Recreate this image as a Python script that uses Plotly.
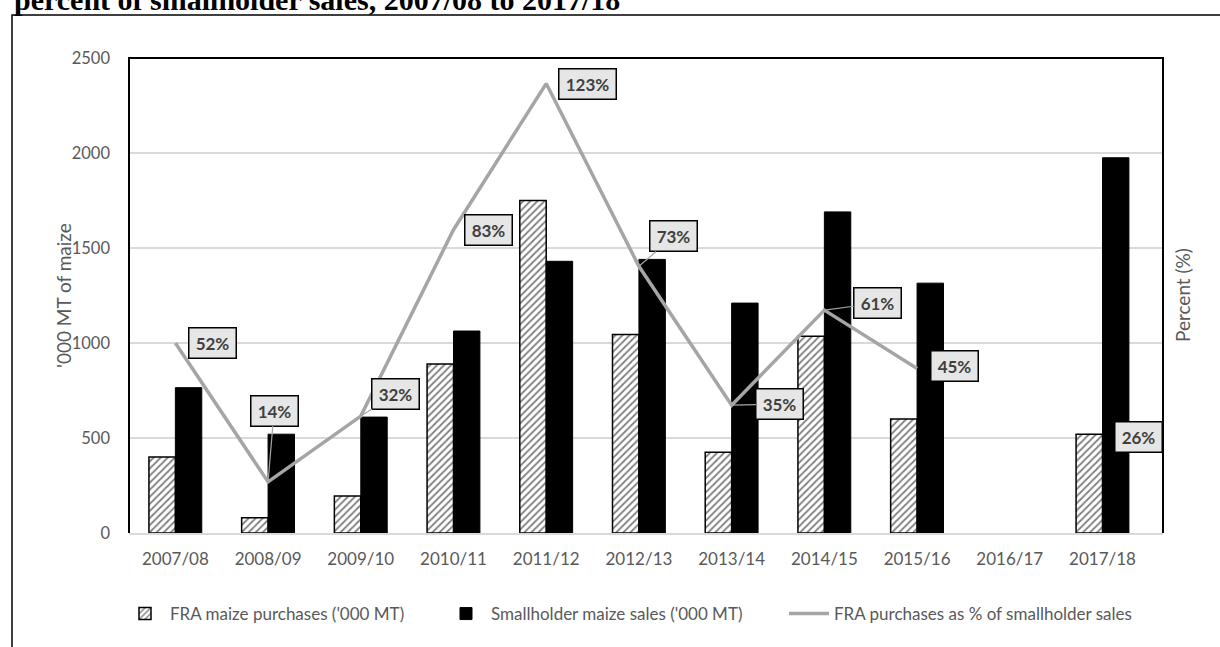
import plotly.graph_objects as go

seasons = ["2007/08", "2008/09", "2009/10", "2010/11", "2011/12", "2012/13",
           "2013/14", "2014/15", "2015/16", "2016/17", "2017/18"]
fra_purchases = [400, 80, 195, 890, 1750, 1045, 425, 1035, 600, None, 520]
smallholder_sales = [765, 520, 610, 1063, 1430, 1440, 1210, 1690, 1315, None, 1975]
fra_pct = [52, 14, 32, 83, 123, 73, 35, 61, 45, None, 26]
pct_labels = ["52%", "14%", "32%", "83%", "123%", "73%", "35%", "61%", "45%", None, "26%"]

# label offsets (pixels) and whether a leader line is shown
label_dx = [37, 6, 35, 35, 41, 35, 48, 53, 37, 0, 36]
label_dy = [0, -71, -22, 0, 0, -30, -1, -7, -3, 0, -1]
leader = [False, True, True, False, False, True, True, True, False, False, False]

FONT = "Lato"
GREY_TXT = "#595959"

fig = go.Figure()
fig.add_trace(go.Bar(
    x=seasons, y=fra_purchases, name="FRA maize purchases ('000 MT)", legend="legend",
    marker=dict(color="white", line=dict(color="black", width=1.5),
                pattern=dict(shape="/", fgcolor="black", bgcolor="white", size=5, solidity=0.35)),
))
fig.add_trace(go.Bar(
    x=seasons, y=smallholder_sales, name="Smallholder maize sales ('000 MT)", legend="legend2",
    marker=dict(color="black", line=dict(color="black", width=1)),
))
fig.add_trace(go.Scatter(
    x=seasons, y=fra_pct, name="FRA purchases as % of smallholder sales", legend="legend3",
    mode="lines", yaxis="y2", connectgaps=False,
    line=dict(color="#a5a5a5", width=3.5),
))

annotations = []
for s, v, t, dx, dy, ld in zip(seasons, fra_pct, pct_labels, label_dx, label_dy, leader):
    if v is None:
        continue
    annotations.append(dict(
        x=s, y=v, xref="x", yref="y2", text="<b>%s</b>" % t,
        showarrow=True, ax=dx, ay=dy, axref="pixel", ayref="pixel",
        arrowhead=0, arrowwidth=1.2, standoff=0,
        arrowcolor="#a5a5a5" if ld else "rgba(0,0,0,0)",
        bgcolor="#e7e6e6", bordercolor="black", borderwidth=1.5, borderpad=4,
        width=48 if len(t) > 3 else 38, height=21,
        font=dict(family=FONT, size=17, color="#404040"),
    ))

# title (cropped at the top of the page)
annotations.append(dict(
    x=(13 - 129) / 1034, y=(533 - 17) / 475, xref="paper", yref="paper",
    xanchor="left", yanchor="bottom", showarrow=False, borderpad=0,
    text="<b>percent of smallholder sales, 2007/08 to 2017/18</b>",
    font=dict(family="Liberation Serif", size=30, color="black"),
))
# axis titles
annotations.append(dict(
    x=(50 - 129) / 1034, y=0.5, xref="paper", yref="paper", showarrow=False,
    text="'000 MT of maize", textangle=-90,
    font=dict(family=FONT, size=19, color=GREY_TXT),
))
annotations.append(dict(
    x=(1196 - 129) / 1034, y=0.5, xref="paper", yref="paper", showarrow=False,
    text="Percent (%)", textangle=-90,
    font=dict(family=FONT, size=19, color=GREY_TXT),
))

shapes = [
    # plot frame (left, top, right)
    dict(type="path", xref="paper", yref="paper", path="M0,0 L0,1 L1,1 L1,0",
         line=dict(color="black", width=2), layer="above"),
    # outer chart border
    dict(type="path", xref="paper", yref="paper",
         path="M%f,-0.4 L%f,%f L1.2,%f" % ((12 - 129) / 1034, (12 - 129) / 1034,
                                            (533 - 15) / 475, (533 - 15) / 475),
         line=dict(color="black", width=1.5)),
]

legend_common = dict(orientation="h", xanchor="left", y=(533 - 614) / 475, yanchor="middle",
                     font=dict(family=FONT, size=17, color=GREY_TXT), itemwidth=40,
                     bgcolor="rgba(0,0,0,0)")

fig.update_layout(
    width=1220, height=647, autosize=False,
    margin=dict(l=129, r=57, t=58, b=114, autoexpand=False),
    paper_bgcolor="white", plot_bgcolor="white",
    barmode="group", bargap=0.43, bargroupgap=0,
    font=dict(family=FONT, size=17, color=GREY_TXT),
    xaxis=dict(type="category", showline=True, linecolor="#d9d9d9", linewidth=1.5,
               ticks="", tickfont=dict(size=17, color=GREY_TXT), ticklabelstandoff=10,
               showgrid=False, zeroline=False),
    yaxis=dict(range=[0, 2500], dtick=500, showgrid=True, gridcolor="#d9d9d9", gridwidth=1.5,
               zeroline=False, showline=False, ticks="",
               tickfont=dict(size=16.5, color=GREY_TXT), ticklabelstandoff=18),
    yaxis2=dict(range=[0, 130], overlaying="y", side="right", showticklabels=False,
                showgrid=False, zeroline=False, showline=False, ticks=""),
    legend=dict(x=(120 - 129) / 1034, **legend_common),
    legend2=dict(x=(441 - 129) / 1034, **legend_common),
    legend3=dict(x=(784 - 129) / 1034, **legend_common),
    showlegend=True,
    annotations=annotations,
    shapes=shapes,
)

fig.write_html("out.html")
